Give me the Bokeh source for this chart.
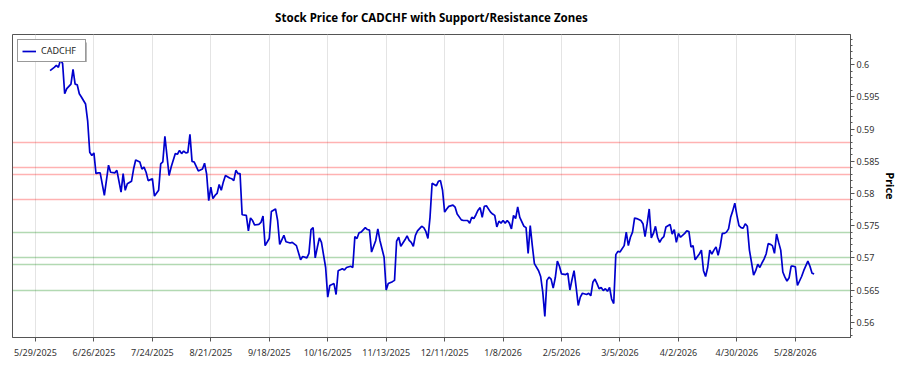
import numpy as np
import pandas as pd
from bokeh.plotting import figure
from bokeh.models import Range1d, FixedTicker, BoxAnnotation
from bokeh.embed import file_html
from bokeh.resources import INLINE

# CADCHF daily closes: calendar-day offsets from first_day and closing price
first_day = pd.Timestamp("2025-05-29")

day = [
    7, 9, 10, 11, 12, 13, 14, 15, 17, 18, 19, 20, 21, 22, 24, 25, 26, 27, 28, 29,
    30, 31, 33, 35, 36, 38, 39, 41, 42, 43, 44, 46, 47, 48, 50, 51, 52, 53, 54, 56,
    57, 59, 60, 61, 62, 64, 65, 67,
    68, 69, 70, 71, 72, 73, 74, 75, 76, 78, 80, 81, 82, 83, 84, 85, 86, 87, 88, 89,
    90, 91, 93, 94, 95, 96, 97, 98, 99, 101, 102, 103, 104, 105, 107, 108, 109, 110,
    112, 113, 115, 116, 117, 119, 120, 122, 123, 125,
    127, 128, 130, 131, 132, 133, 134, 135, 136, 137, 139, 140, 141, 143, 144, 145,
    147, 148, 149, 151, 152, 153, 154, 155, 156, 158, 159, 160, 161, 163, 164, 165,
    167, 168, 169, 171, 172, 173, 174, 175, 177, 178, 179, 180, 181, 182, 183, 185, 186,
    187, 188, 189, 190, 191, 192, 193, 194, 195, 196, 197, 198, 200, 201, 202, 204,
    205, 207, 208, 209, 210, 211, 212, 213, 214, 215, 216, 218, 219, 220, 221, 222,
    223, 224, 225, 226, 227, 228, 229, 230, 231, 232, 234, 235, 236, 237, 238, 239,
    241, 242, 243, 244, 245, 246,
    247, 248, 249, 250, 251, 252, 254, 255, 256, 257, 258, 259, 260, 261, 262, 264,
    265, 266, 267, 268, 269, 270, 271, 272, 273, 274, 275, 276, 277, 278, 279, 280,
    282, 283, 284, 285, 286, 287, 288, 290, 291, 292, 293, 294, 295, 296, 297, 298,
    299, 300, 301, 302, 303, 304, 305,
    306, 307, 308, 309, 311, 312, 313, 314, 315, 316, 318, 319, 320, 321, 322, 323,
    324, 325, 326, 327, 328, 329, 330, 331, 332, 333, 334, 335, 336, 337, 338, 339,
    340, 341, 342, 343, 344, 345, 346, 347, 348, 349, 350, 351, 352, 353, 354, 355,
    356, 357, 358, 359, 360, 361, 362, 363, 364, 365, 366, 367, 368, 370, 371, 372, 373,
]

price = [
    0.5991, 0.5996, 0.5999, 0.5996, 0.6008, 0.6002, 0.5955, 0.5963, 0.5970, 0.5993,
    0.5970, 0.5969, 0.5955, 0.5950, 0.5939, 0.5913, 0.5864, 0.5859, 0.5863, 0.5831,
    0.5832, 0.5832, 0.5797, 0.5844, 0.5833, 0.5832, 0.5836, 0.5802, 0.5831, 0.5805,
    0.5815, 0.5819, 0.5838, 0.5852, 0.5849, 0.5838, 0.5841, 0.5833, 0.5820, 0.5823,
    0.5796, 0.5805, 0.5846, 0.5849, 0.5889, 0.5828, 0.5841, 0.5862,
    0.5861, 0.5867, 0.5862, 0.5866, 0.5863, 0.5864, 0.5892, 0.5850, 0.5849, 0.5835,
    0.5838, 0.5847, 0.5830, 0.5789, 0.5810, 0.5792, 0.5797, 0.5800, 0.5814, 0.5805,
    0.5818, 0.5828, 0.5824, 0.5823, 0.5820, 0.5836, 0.5831, 0.5831, 0.5767, 0.5766,
    0.5742, 0.5762, 0.5758, 0.5751, 0.5752, 0.5755, 0.5765, 0.5719,
    0.5730, 0.5772, 0.5776, 0.5758, 0.5721, 0.5735, 0.5725, 0.5723, 0.5724, 0.5719,
    0.5697, 0.5702, 0.5700, 0.5707, 0.5744, 0.5747, 0.5700, 0.5716, 0.5731, 0.5724,
    0.5685, 0.5639, 0.5657, 0.5660, 0.5643, 0.5680,
    0.5683, 0.5681, 0.5685, 0.5687, 0.5685, 0.5733, 0.5730, 0.5739, 0.5740, 0.5747,
    0.5744, 0.5743, 0.5709, 0.5727, 0.5745, 0.5727,
    0.5701, 0.5650, 0.5660, 0.5663, 0.5665, 0.5726, 0.5732, 0.5718, 0.5728, 0.5734,
    0.5727, 0.5724, 0.5718, 0.5735, 0.5742, 0.5749, 0.5747,
    0.5741, 0.5730, 0.5763, 0.5816, 0.5814, 0.5812, 0.5819, 0.5820, 0.5805, 0.5771,
    0.5776, 0.5780, 0.5782, 0.5779, 0.5768, 0.5759,
    0.5758, 0.5758, 0.5754, 0.5763, 0.5761, 0.5767, 0.5774, 0.5778, 0.5763, 0.5780,
    0.5781, 0.5771, 0.5768, 0.5766, 0.5748, 0.5757,
    0.5754, 0.5758, 0.5754, 0.5758, 0.5754, 0.5745, 0.5766, 0.5761, 0.5779, 0.5763,
    0.5749, 0.5747, 0.5707, 0.5750, 0.5719, 0.5691,
    0.5680, 0.5671, 0.5647, 0.5609, 0.5665, 0.5670,
    0.5667, 0.5653, 0.5669, 0.5695, 0.5687, 0.5675, 0.5674, 0.5676, 0.5650, 0.5666,
    0.5680, 0.5654, 0.5626, 0.5639, 0.5645, 0.5643,
    0.5645, 0.5641, 0.5662, 0.5667, 0.5660, 0.5652, 0.5654, 0.5649, 0.5652, 0.5648,
    0.5654, 0.5636, 0.5629, 0.5705, 0.5710, 0.5709,
    0.5719, 0.5740, 0.5719, 0.5732, 0.5740, 0.5762, 0.5761, 0.5758, 0.5753, 0.5733,
    0.5753, 0.5776, 0.5731, 0.5738, 0.5749, 0.5732,
    0.5724, 0.5730, 0.5733, 0.5748, 0.5750, 0.5752, 0.5737,
    0.5744, 0.5724, 0.5738, 0.5732, 0.5738, 0.5742, 0.5741, 0.5717, 0.5719, 0.5697,
    0.5706, 0.5712, 0.5680, 0.5671, 0.5685, 0.5712,
    0.5706, 0.5712, 0.5717, 0.5704, 0.5718, 0.5738, 0.5738, 0.5740, 0.5745, 0.5763,
    0.5773, 0.5785, 0.5766, 0.5750, 0.5747, 0.5746,
    0.5753, 0.5749, 0.5712, 0.5693, 0.5673, 0.5680, 0.5690, 0.5685, 0.5692, 0.5698,
    0.5706, 0.5722, 0.5721, 0.5719, 0.5707, 0.5737,
    0.5724, 0.5712, 0.5678, 0.5670, 0.5664, 0.5669, 0.5687, 0.5687, 0.5686, 0.5657,
    0.5664, 0.5671, 0.5680, 0.5695, 0.5687, 0.5676, 0.5675,
]

resistance = [0.588, 0.584, 0.583, 0.579]
support = [0.574, 0.570, 0.569, 0.565]

date_ticks = ["2025-05-29", "2025-06-26", "2025-07-24", "2025-08-21", "2025-09-18",
              "2025-10-16", "2025-11-13", "2025-12-11", "2026-01-08", "2026-02-05",
              "2026-03-05", "2026-04-02", "2026-04-30", "2026-05-28"]
date_labels = ["5/29/2025", "6/26/2025", "7/24/2025", "8/21/2025", "9/18/2025",
               "10/16/2025", "11/13/2025", "12/11/2025", "1/8/2026", "2/5/2026",
               "3/5/2026", "4/2/2026", "4/30/2026", "5/28/2026"]
price_labels = ["0.56", "0.565", "0.57", "0.575", "0.58", "0.585", "0.59", "0.595", "0.6"]

assert len(day) == len(price)
dates = first_day + pd.to_timedelta(day, unit="D")

FONT = "Noto Sans"

p = figure(
    width=900, height=375,
    x_axis_type="datetime", y_axis_location="right",
    x_range=Range1d(pd.Timestamp("2025-05-18").to_pydatetime(),
                    pd.Timestamp("2026-06-23 10:00").to_pydatetime()),
    y_range=Range1d(0.55762, 0.60471),
    title="Stock Price for CADCHF with Support/Resistance Zones",
    output_backend="svg", toolbar_location=None,
    min_border_left=12, min_border_right=44, min_border_top=34, min_border_bottom=38,
    background_fill_color="white", border_fill_color="white",
)

p.title.align = "center"
p.title.vertical_align = "top"
p.title.standoff = 16
p.title.text_font = FONT
p.title.text_font_size = "11.5px"
p.title.text_font_style = "bold"
p.title.text_color = "black"

# support / resistance levels
p.hspan(y=resistance, line_color="red", line_alpha=0.3, line_width=1.5)
p.hspan(y=support, line_color="green", line_alpha=0.3, line_width=1.5)

p.line(dates, price, line_color="#0000cd", line_width=1.7, legend_label="CADCHF")

# legend drop shadow
p.add_layout(BoxAnnotation(left=19, right=86.5, top=42, bottom=61.5,
                           left_units="canvas", right_units="canvas",
                           top_units="canvas", bottom_units="canvas",
                           fill_color="#888888", fill_alpha=0.6, line_color=None,
                           level="underlay"))

leg = p.legend[0]
leg.location = "top_left"
leg.margin = 5
leg.padding = 4
leg.spacing = 0
leg.glyph_width = 14
leg.glyph_height = 12
leg.label_height = 12
leg.label_width = 40
leg.label_standoff = 5
leg.label_text_font = FONT
leg.label_text_font_size = "9px"
leg.label_text_color = "#222222"
leg.border_line_color = "#333333"
leg.border_line_width = 1
leg.background_fill_alpha = 1.0

tick_ms = [int(pd.Timestamp(d).value // 10**6) for d in date_ticks]
xt = FixedTicker(ticks=tick_ms)
xa = p.xaxis[0]
xa.ticker = xt
xa.major_label_overrides = dict(zip(tick_ms, date_labels))
xa.minor_tick_line_color = None
xa.major_tick_out = 4
xa.major_tick_in = 0
xa.major_label_standoff = 4
xa.major_label_text_font = FONT
xa.major_label_text_font_size = "9px"
xa.major_label_text_color = "#333333"
xa.axis_line_color = "#555555"
xa.major_tick_line_color = "#555555"

y_ticks = [float(s) for s in price_labels]
ya = p.yaxis[0]
ya.ticker = FixedTicker(ticks=y_ticks, minor_ticks=list(np.round(np.arange(0.556, 0.606, 0.001), 3)))
ya.major_label_overrides = dict(zip(y_ticks, price_labels))
ya.major_tick_out = 4
ya.major_tick_in = 0
ya.minor_tick_out = 2
ya.minor_tick_in = 0
ya.major_label_standoff = 2
ya.major_label_text_font = FONT
ya.major_label_text_font_size = "9px"
ya.major_label_text_color = "#333333"
ya.axis_line_color = "#555555"
ya.major_tick_line_color = "#555555"
ya.minor_tick_line_color = "#555555"
ya.axis_label = "Price"
ya.axis_label_text_font = FONT
ya.axis_label_text_font_size = "11px"
ya.axis_label_text_font_style = "bold"
ya.axis_label_text_color = "black"
ya.axis_label_standoff = 0

p.xgrid.ticker = xt
p.xgrid.grid_line_color = "#e4e4e4"
p.ygrid.grid_line_color = None

p.outline_line_color = "#555555"
p.outline_line_width = 1

open("out.html", "w").write(file_html(p, INLINE))
